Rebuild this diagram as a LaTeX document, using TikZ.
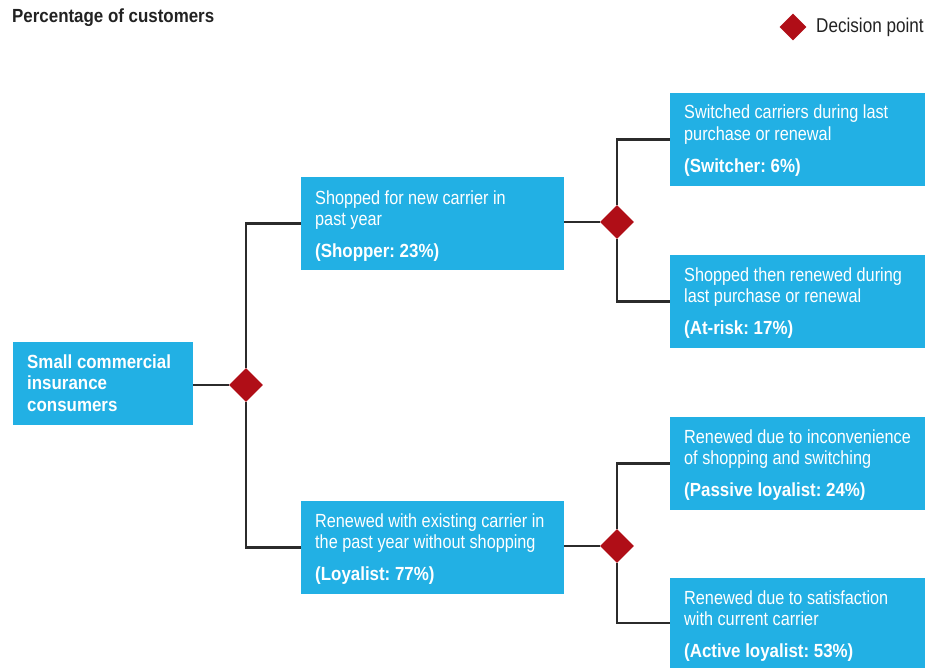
\documentclass[tikz,border=0pt]{standalone}
\usepackage{fontspec}
\setmainfont{Liberation Sans}[FakeStretch=0.855,BoldFeatures={FakeStretch=0.89}]
\usetikzlibrary{shapes.geometric}
\definecolor{boxblue}{HTML}{22B0E4}
\definecolor{decred}{HTML}{B00E17}
\definecolor{linegray}{HTML}{2B2B2B}
\definecolor{txtdark}{HTML}{222222}
\frenchspacing
\begin{document}
\begin{tikzpicture}[x=1pt,y=-1pt,
  boxnode/.style={draw=none,fill=boxblue,rectangle,inner sep=0pt,anchor=north west},
  boxtext/.style={text=white,anchor=base west,inner sep=0pt,align=flush left,text width=245pt,
    font=\fontsize{19}{21.5}\selectfont\frenchspacing},
  decision/.style={diamond,fill=decred,draw=none,inner sep=0pt,minimum width=34pt,minimum height=34pt},
  conn/.style={draw=linegray,line width=2.5pt}]
\useasboundingbox (0,0) rectangle (933,671);
% title and legend
\node[anchor=base west,inner sep=0pt,text=txtdark,font=\fontsize{19}{21.5}\selectfont\bfseries] (title) at (12,23) {Percentage of customers};
\node[decision,minimum width=27pt,minimum height=27pt] (legd) at (793,27) {};
\node[anchor=base west,inner sep=0pt,text=txtdark,font=\fontsize{20}{22}\selectfont] (legt) at (816,33) {Decision point};
% boxes
\node[boxnode,minimum width=180pt,minimum height=83pt] (root) at (13,342) {};
\node[boxnode,minimum width=263pt,minimum height=93pt] (shop) at (301,177) {};
\node[boxnode,minimum width=263pt,minimum height=93pt] (loyal) at (301,501) {};
\node[boxnode,minimum width=255pt,minimum height=93pt] (switch) at (670,93) {};
\node[boxnode,minimum width=255pt,minimum height=93pt] (atrisk) at (670,255) {};
\node[boxnode,minimum width=255pt,minimum height=93pt] (passive) at (670,417) {};
\node[boxnode,minimum width=255pt,minimum height=90pt] (active) at (670,578) {};
% texts
\node[boxtext,font=\fontsize{19}{21.5}\selectfont\bfseries\frenchspacing] (roott) at ([shift={(14,26)}]root.north west) {Small commercial\\insurance\\consumers};
\node[boxtext] (shopt) at ([shift={(14,27)}]shop.north west) {Shopped for new carrier in\\past year\\[10.5pt]\textbf{(Shopper: 23\%)}};
\node[boxtext] (loyalt) at ([shift={(14,26)}]loyal.north west) {Renewed with existing carrier in\\the past year without shopping\\[10.5pt]\textbf{(Loyalist: 77\%)}};
\node[boxtext] (switcht) at ([shift={(14,26)}]switch.north west) {Switched carriers during last\\purchase or renewal\\[10.5pt]\textbf{(Switcher: 6\%)}};
\node[boxtext] (atriskt) at ([shift={(14,26)}]atrisk.north west) {Shopped then renewed during\\last purchase or renewal\\[10.5pt]\textbf{(At-risk: 17\%)}};
\node[boxtext] (passivet) at ([shift={(14,26)}]passive.north west) {Renewed due to inconvenience\\of shopping and switching\\[10.5pt]\textbf{(Passive loyalist: 24\%)}};
\node[boxtext] (activet) at ([shift={(14,26)}]active.north west) {Renewed due to satisfaction\\with current carrier\\[10.5pt]\textbf{(Active loyalist: 53\%)}};
% decisions
\node[decision] (d1) at (246,385) {};
\node[decision] (d2) at (617,222) {};
\node[decision] (d3) at (617,546) {};
% connectors
\draw[conn] (root.east |- d1) -- (d1.west);
\draw[conn] (d1.north) |- (shop.west);
\draw[conn] (d1.south) |- (loyal.west);
\draw[conn] (shop.east |- d2) -- (d2.west);
\draw[conn] (d2.north) |- (switch.west);
\draw[conn] (d2.south) |- (atrisk.west);
\draw[conn] (loyal.east |- d3) -- (d3.west);
\draw[conn] (d3.north) |- (passive.west);
\draw[conn] (d3.south) |- (active.west);
\end{tikzpicture}
\end{document}
